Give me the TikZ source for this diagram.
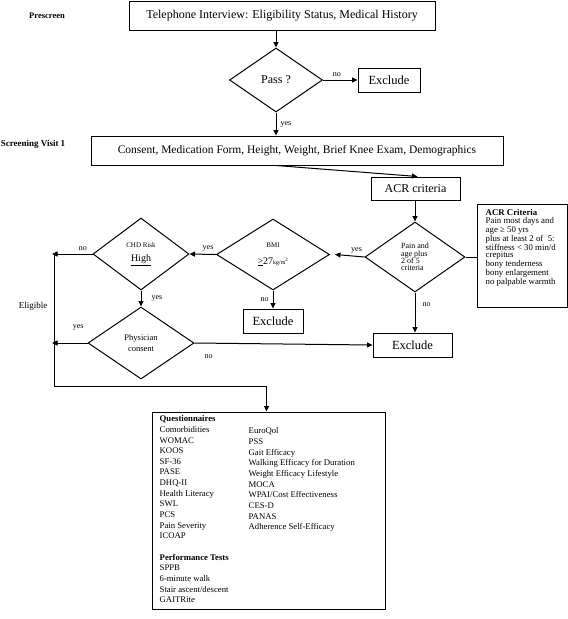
\documentclass[tikz,border=0pt]{standalone}
\usepackage{fontspec}
\setmainfont{Liberation Serif}
\usetikzlibrary{shapes.geometric,arrows.meta,calc}
\newcommand{\fsz}[2][]{\fontsize{#2}{#2}\selectfont}

\begin{document}
\begin{tikzpicture}[x=1pt,y=-1pt,
  box/.style={draw, line width=1pt, inner sep=0pt},
  decision/.style={draw, diamond, line width=1pt, inner sep=0pt, align=center},
  lbl/.style={font=\fsz{8}, inner sep=0pt},
  arr/.style={line width=1pt, -{Triangle[length=5.5pt,width=5pt]}}]
\useasboundingbox (0,0) rectangle (568,619);

% stage labels
\node[font=\bfseries\fsz{8.5}] (prescreen) at (47,16) {Prescreen};
\node[font=\bfseries\fsz{9}] (visit) at (33,144) {Screening Visit 1};
\node[font=\fsz{9}] (eligible) at (33,306) {Eligible};

\node[box, minimum width=306pt, minimum height=29pt, font=\fsz{12}] (phone) at (282,15.5) {Telephone Interview: Eligibility Status, Medical History};
\node[decision, minimum width=93pt, minimum height=64pt, font=\fsz{12}] (pass) at (276,80) {Pass ?};
\node[box, minimum width=62pt, minimum height=24pt, font=\fsz{12.5}] (excl1) at (389,80) {Exclude};
\node[box, minimum width=412pt, minimum height=29pt, font=\fsz{11.5}] (consent) at (297,150.5) {Consent, Medication Form, Height, Weight, Brief Knee Exam, Demographics};
\node[box, minimum width=89pt, minimum height=23pt, font=\fsz{12}] (acr) at (415.5,188.5) {ACR criteria};

\node[decision, minimum width=100pt, minimum height=70pt, font=\fontsize{8}{7.4}\selectfont, align=left] (pain) at (415,257) {Pain and\\age plus\\2 of 5\\criteria};
\node[box, minimum width=90pt, minimum height=103pt] (crit) at (522,255.5) {};
\node[anchor=north west, align=left, inner sep=0pt, font=\fontsize{8.8}{7.6}\selectfont] (crittext) at ([shift={(9,6)}]crit.north west)
  {\textbf{ACR Criteria}\\Pain most days and\\age ≥ 50 yrs\\plus at least 2 of~~5:\\stiffness < 30 min/d\\crepitus\\bony tenderness\\bony enlargement\\no palpable warmth};

\node[decision, minimum width=113pt, minimum height=71pt] (bmi) at (273,254.5) {{\fsz{7}BMI}\\[5pt]{\fsz{10}\underline{>}27}{\fsz{6}kg/m\textsuperscript{2}}};
\node[box, minimum width=60pt, minimum height=24pt, font=\fsz{12.5}] (exbmi) at (273,321) {Exclude};
\node[decision, minimum width=96pt, minimum height=72pt] (chd) at (141,254) {{\fsz{7}CHD Risk}\\[2pt]{\fsz{10}\underline{High}}};
\node[decision, minimum width=106pt, minimum height=72pt, font=\fontsize{8.5}{11}\selectfont] (phys) at (141,343) {Physician\\consent};
\node[box, minimum width=79pt, minimum height=24pt, font=\fsz{12.5}] (ex2) at (412.5,345) {Exclude};

\node[box, minimum width=233pt, minimum height=197pt] (qbox) at (268.5,510.5) {};
\node[anchor=north west, align=left, inner sep=0pt, font=\fontsize{8.7}{10.65}\selectfont] (qleft) at ([shift={(8,4)}]qbox.north west)
  {\textbf{Questionnaires}\\Comorbidities\\WOMAC\\KOOS\\SF-36\\PASE\\DHQ-II\\Health Literacy\\SWL\\PCS\\Pain Severity\\ICOAP\\[10.65pt]
   \textbf{Performance Tests}\\SPPB\\6-minute walk\\Stair ascent/descent\\GAITRite};
\node[anchor=north west, align=left, inner sep=0pt, font=\fontsize{8.7}{10.65}\selectfont] (qright) at ([xshift=89pt]qleft.north west)
  {\strut\\EuroQol\\PSS\\Gait Efficacy\\Walking Efficacy for Duration\\Weight Efficacy Lifestyle\\MOCA\\WPAI/Cost Effectiveness\\CES-D\\PANAS\\Adherence Self-Efficacy};

\coordinate (elig) at (54,254);
\coordinate (eligyes) at (52,343);
\coordinate (turn) at (54,386);

\draw[arr] (pass.north |- phone.south) -- (pass.north);
\draw[arr] (pass.east) -- (excl1.west) node[lbl, pos=0.4, above=3pt] {no};
\draw[arr] (pass.south) -- (pass.south |- consent.north) node[lbl, midway, right=4pt] {yes};
\draw[arr] (pass.south |- consent.south) -- ([xshift=2pt]acr.north);
\draw[arr] (acr.south -| pain.north) -- (pain.north);
\draw[line width=1pt] (pain.east) -- (pain.east -| crit.west);
\draw[arr] (pain.west) -- ([xshift=5pt]bmi.east) node[lbl, pos=0.27, above=3pt] {yes};
\draw[arr] (bmi.west) -- (chd.east) node[lbl, pos=0.3, above=3pt] {yes};
\draw[arr] (bmi.south) -- (exbmi.north) node[lbl, midway, left=4pt] {no};
\draw[arr] (chd.west) -- ([xshift=-2pt]elig) node[lbl, pos=0.24, above=3pt] {no};
\draw[arr] (chd.south) -- (phys.north) node[lbl, midway, right=10pt] {yes};
\draw[arr] (phys.west) -- (eligyes) node[lbl, pos=0.26, above=12pt] {yes};
\draw[arr] (phys.east) -- (ex2.west) node[lbl, pos=0.08, below=11pt] {no};
\draw[arr] (pain.south) -- (pain.south |- ex2.north) node[lbl, pos=0.3, right=7pt] {no};
%\draw[arr] (elig) |- (qbox.north);
\draw[arr] (elig) -- (turn) -| ([xshift=-2pt]qbox.north);
\end{tikzpicture}
\end{document}
